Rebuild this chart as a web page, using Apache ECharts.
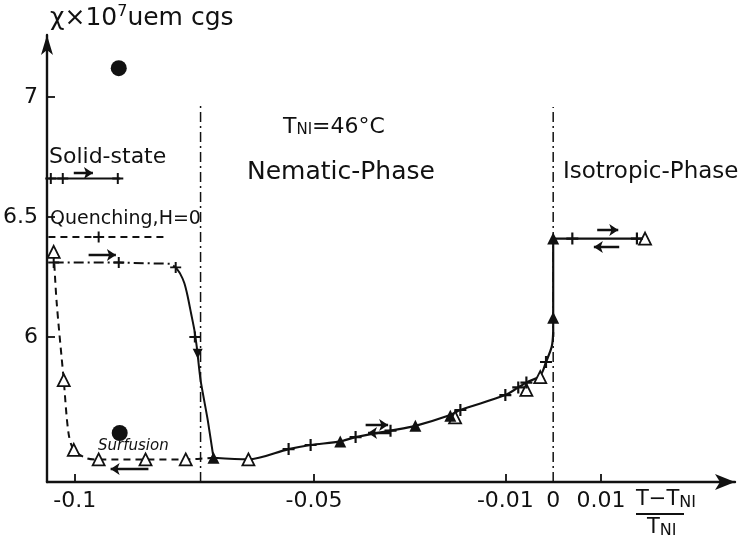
<!DOCTYPE html>
<html><head><meta charset="utf-8">
<script src="https://cdn.jsdelivr.net/npm/echarts@6/dist/echarts.min.js"></script>
<style>html,body{margin:0;padding:0;background:#fff}#c{width:741px;height:541px}</style>
</head><body><div id="c"></div>
<script>
// ---- axis ticks / labels ----
const xTickValues = [-0.1, -0.05, -0.01, 0.01];
const xLabelValues = [-0.1, -0.05, -0.01, 0, 0.01];
const yTickValues = [6, 6.5, 7];
const xRange = [-0.1058, 0.038];
const yRange = [5.396, 7.258];

// ---- phase boundaries (vertical dash-dot lines) ----
const boundaryNematic = [[-0.0737, 5.396], [-0.0737, 6.975]];
const boundaryIsotropic = [[0, 5.396], [0, 6.958]];

// ---- solid state (heating) ----
const solidStateLine = [[-0.1055, 6.66], [-0.0905, 6.66]];
const solidStateCross = [[-0.1050, 6.66], [-0.1025, 6.66], [-0.0910, 6.66]];

// ---- quenching, H=0 ----
const quenchLine = [[-0.1055, 6.417], [-0.0810, 6.417]];
const quenchCross = [[-0.0950, 6.417]];

// ---- heating curve (dash-dot plateau then melting) ----
const heatPlateau = [[-0.1044, 6.31], [-0.0908, 6.31], [-0.0800, 6.305], [-0.0789, 6.29]];
const heatMelt = [[-0.0789, 6.29], [-0.0780, 6.265], [-0.0771, 6.225], [-0.0764, 6.17], [-0.0757, 6.10],
  [-0.0750, 6.03], [-0.0745, 5.96], [-0.0737, 5.82], [-0.0722, 5.654], [-0.0710, 5.497]];
const heatCross = [[-0.1044, 6.31], [-0.0908, 6.31], [-0.0789, 6.29], [-0.0749, 6.0]];
const heatDownMarker = [[-0.0743, 5.93]];

// ---- surfusion (cooling, dashed) ----
const surfusion = [[-0.1044, 6.355], [-0.1038, 6.15], [-0.1023, 5.82], [-0.1013, 5.60], [-0.1002, 5.53],
  [-0.0975, 5.495], [-0.0950, 5.49], [-0.0852, 5.49], [-0.0768, 5.49], [-0.0710, 5.497]];
const surfusionOpenTri = [[-0.1044, 6.355], [-0.1023, 5.82], [-0.1002, 5.53], [-0.0950, 5.49], [-0.0852, 5.49], [-0.0768, 5.49]];

// ---- nematic curve ----
const nematic = [[-0.0710, 5.497], [-0.0637, 5.49], [-0.0553, 5.533], [-0.0507, 5.55], [-0.0445, 5.565],
  [-0.0413, 5.583], [-0.0340, 5.61], [-0.0288, 5.63], [-0.0215, 5.675], [-0.0194, 5.696], [-0.0100, 5.758],
  [-0.0073, 5.79], [-0.0056, 5.81], [-0.0027, 5.84], [-0.0015, 5.896], [-0.0003, 5.96], [0, 6.02]];
const jumpAndIso = [[0, 6.0], [0, 6.41], [0.0192, 6.41]];
const filledTri = [[-0.0710, 5.497], [-0.0445, 5.565], [-0.0288, 5.63], [-0.0215, 5.672], [0, 6.08], [0, 6.41]];
const openTri = [[-0.0637, 5.49], [-0.0205, 5.665], [-0.0056, 5.78], [-0.0027, 5.833], [0.0192, 6.41]];
const crosses = [[-0.0553, 5.533], [-0.0507, 5.55], [-0.0413, 5.583], [-0.0340, 5.61], [-0.0194, 5.696],
  [-0.0100, 5.758], [-0.0073, 5.79], [-0.0056, 5.81], [-0.0015, 5.896], [0.0040, 6.41], [0.0175, 6.41]];

// ---- big dots ----
const dots = [[-0.0908, 7.12], [-0.0906, 5.60]];

// ---- direction arrows ----
const arrows = [
  [[-0.1002, 6.683], [-0.0962, 6.683]],
  [[-0.0971, 6.342], [-0.0914, 6.342]],
  [[-0.0846, 5.45], [-0.0925, 5.45]],
  [[-0.0392, 5.633], [-0.0345, 5.633]],
  [[-0.0340, 5.600], [-0.0387, 5.600]],
  [[0.0092, 6.446], [0.0136, 6.446]],
  [[0.0138, 6.375], [0.0085, 6.375]]
];

const INK = '#111';
const FONT = '"DejaVu Sans", sans-serif';
const crossSym = 'path://M4.1,0H5.9V4.1H10V5.9H5.9V10H4.1V5.9H0V4.1H4.1Z';
const dashDot = [10, 4, 2, 4];

const chart = echarts.init(document.getElementById('c'), null, {renderer: 'canvas'});
function lineSeries(data, type, width) {
  return {type: 'line', data: data, showSymbol: false, symbol: 'none', animation: false, z: 3,
    lineStyle: {color: INK, width: width || 2, type: type || 'solid', opacity: 1}};
}
function scatter(data, symbol, size, filled, extra) {
  return Object.assign({type: 'scatter', data: data, symbol: symbol, symbolSize: size, animation: false, z: 5,
    itemStyle: filled ? {color: INK, opacity: 1} : {color: '#fff', borderColor: INK, borderWidth: 1.8, opacity: 1}}, extra || {});
}
const series = [
  lineSeries(boundaryNematic, dashDot, 1.5),
  lineSeries(boundaryIsotropic, dashDot, 1.5),
  lineSeries(solidStateLine),
  lineSeries(quenchLine, [7, 5]),
  lineSeries(heatPlateau, dashDot),
  Object.assign(lineSeries(heatMelt), {smooth: 0.2}),
  Object.assign(lineSeries(surfusion, [7, 5]), {smooth: 0.3}),
  Object.assign(lineSeries(nematic, 'solid', 2.2), {smooth: 0.3}),
  lineSeries(jumpAndIso, 'solid', 2.2),
  scatter(solidStateCross, crossSym, 11, true),
  scatter(quenchCross, crossSym, 11, true),
  scatter(heatCross, crossSym, 11, true),
  scatter(heatDownMarker, 'triangle', 10, true, {symbolRotate: 180}),
  scatter(surfusionOpenTri, 'triangle', 12, false),
  scatter(openTri, 'triangle', 12, false),
  scatter(filledTri, 'triangle', 12, true),
  scatter(crosses, crossSym, 12, true),
  scatter(dots, 'circle', 16, true),
  {type: 'lines', coordinateSystem: 'cartesian2d', animation: false, z: 6,
   symbol: ['none', 'arrow'], symbolSize: 9,
   lineStyle: {color: INK, width: 2.4, opacity: 1},
   data: arrows.map(a => ({coords: a}))}
];

const txt = (text, x, y, size, extra) => ({type: 'text', z: 10, style: Object.assign({
  text: text, x: x, y: y, font: size + 'px ' + FONT, fill: INK, textVerticalAlign: 'middle'}, extra || {})});
const subRich = (fs, pad) => ({sub: {fontSize: fs, fontFamily: FONT, padding: [pad, 0, 0, 0], fill: INK}});

chart.setOption({
  animation: false,
  grid: {left: 46, right: 6, top: 35, bottom: 59, containLabel: false},
  xAxis: {type: 'value', min: xRange[0], max: xRange[1],
    axisLine: {show: true, onZero: false, symbol: ['none', 'arrow'], symbolSize: [12, 20],
      lineStyle: {color: INK, width: 2.4}},
    axisTick: {show: true, inside: true, length: 8, customValues: xTickValues, lineStyle: {color: INK, width: 1.8}},
    axisLabel: {customValues: xLabelValues, color: INK, fontSize: 22, fontFamily: FONT, margin: 8,
      formatter: v => v === 0 ? '0' : String(v)},
    splitLine: {show: false}},
  yAxis: {type: 'value', min: yRange[0], max: yRange[1],
    axisLine: {show: true, onZero: false, symbol: ['none', 'arrow'], symbolSize: [9, 20],
      lineStyle: {color: INK, width: 2.4}},
    axisTick: {show: true, inside: true, length: 8, customValues: yTickValues, lineStyle: {color: INK, width: 1.8}},
    axisLabel: {customValues: yTickValues, color: INK, fontSize: 22, fontFamily: FONT, margin: 9,
      formatter: v => String(v)},
    splitLine: {show: false}},
  series: series,
  graphic: [
    txt('χ×10{sup|7}uem cgs', 50, 18, 25, {rich: {sup: {fontSize: 16, verticalAlign: 'top', padding: [0, 0, 12, 0], fontFamily: FONT, fill: INK}}}),
    txt('T{sub|NI}=46°C', 283, 127, 22, {rich: subRich(15, 6)}),
    txt('Solid-state', 49, 157, 22),
    txt('Nematic-Phase', 247, 172, 25),
    txt('Isotropic-Phase', 563, 172, 23),
    txt('Quenching,H=0', 50, 219, 19),
    txt('Surfusion', 98, 446, 15, {font: 'italic 15px ' + FONT}),
    txt('T−T{sub|NI}', 636, 500, 21, {rich: subRich(16, 5)}),
    {type: 'line', z: 10, shape: {x1: 636, y1: 514, x2: 684, y2: 514}, style: {stroke: INK, lineWidth: 1.8}},
    txt('T{sub|NI}', 647, 528, 21, {rich: subRich(16, 5)})
  ]
});
</script></body></html>
